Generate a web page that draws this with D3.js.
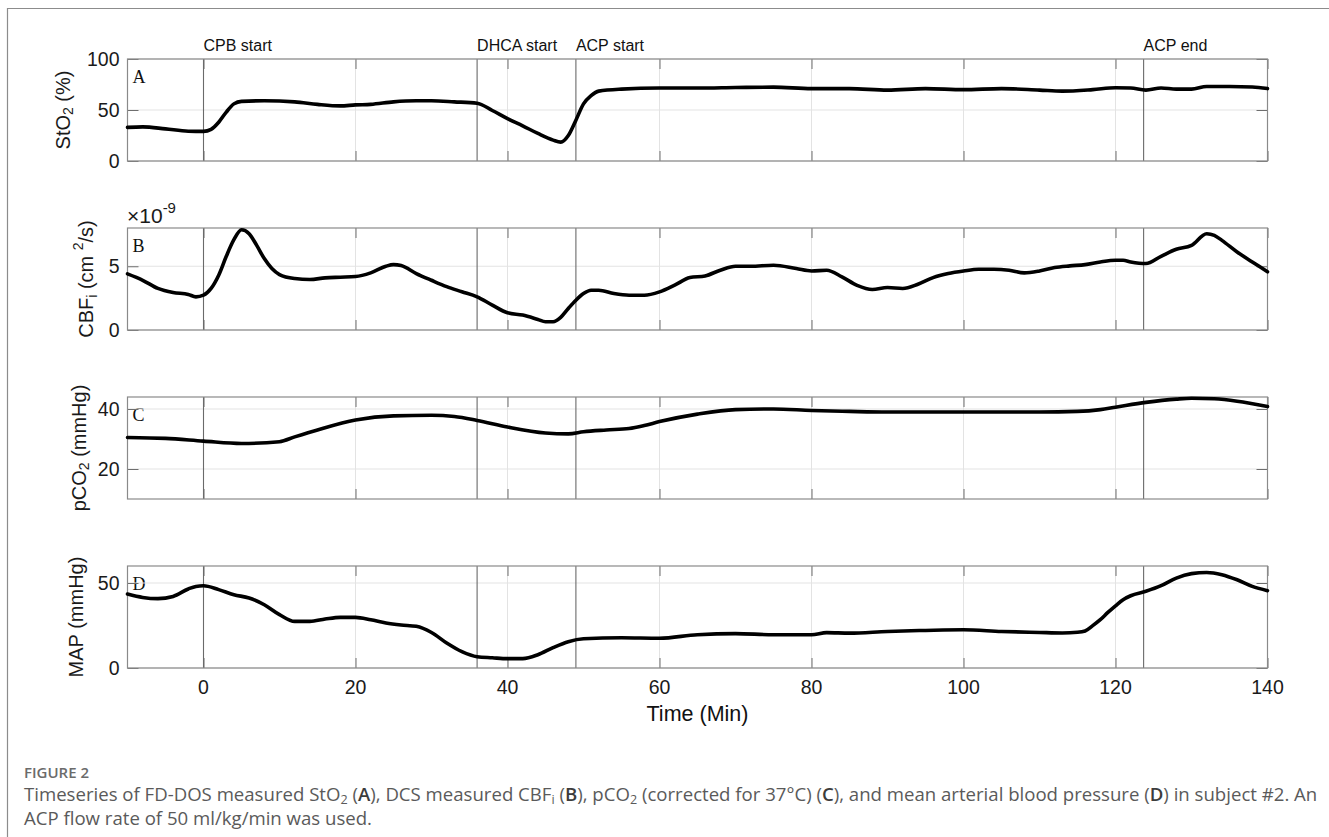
<!DOCTYPE html>
<html>
<head>
<meta charset="utf-8">
<script src="https://cdn.jsdelivr.net/npm/d3@7.9.0/dist/d3.min.js"></script>
<style>
  body { margin: 0; background: #fff; }
  svg { display: block; font-family: "Liberation Sans", Arial, sans-serif; }
</style>
</head>
<body>
<div id="chart"></div>
<script>
// event markers
const eventTimes = [0, 36, 49, 123.7];
const eventLabels = ['CPB start', 'DHCA start', 'ACP start', 'ACP end'];
const xTicks = [0, 20, 40, 60, 80, 100, 120, 140];

// A: StO2 (%)
const timeA = [-10,-8,-5,-2,0,1,2,3,4,5,8,12,15,18,20,22,25,28,30,33,36,38,40,42,44,46,47,48,49,50,51,52,55,60,65,70,75,80,85,90,95,100,105,110,113,117,120,122,124,126,128,130,132,135,138,140];
const stO2 = [33,33.5,31.5,29.2,29,31,38,48,56,58.5,59,58,55.5,54,55,55.5,58,59,59,58,56.7,49.5,41.5,34.5,27,20.5,18.5,25,40,56,64,68.5,70.5,71.5,71.5,72,72.4,71,71,69.5,71,70,71,69.5,68.5,70,71.8,71.5,69.5,71.5,70.5,70.5,73,73,72.5,71];

// B: CBFi (x1e-9 cm^2/s)
const timeB = [-10,-8,-6,-4,-2,-1,0,1,2,3,4,5,6,7,8,9,10,12,14,16,18,20,22,24,25,26,28,30,32,34,36,38,40,42,44,45,46,47,48,49,50,51,52,54,56,58,60,62,64,66,68,70,72,75,78,80,82,84,86,88,90,92,94,96,98,100,102,104,106,108,110,112,114,116,118,120,121,122,124,126,128,130,132,133,134,136,138,140];
const cbf = [4.4,3.9,3.26,2.94,2.79,2.6,2.73,3.26,4.3,5.78,7.08,7.86,7.55,6.64,5.6,4.82,4.35,4.04,3.96,4.09,4.14,4.19,4.48,5.0,5.13,5.05,4.43,3.9,3.4,3.0,2.6,1.95,1.35,1.17,0.83,0.65,0.65,0.99,1.69,2.34,2.86,3.12,3.12,2.86,2.73,2.73,2.99,3.52,4.11,4.24,4.69,5.0,5.0,5.08,4.82,4.63,4.69,4.17,3.5,3.18,3.33,3.26,3.59,4.11,4.43,4.63,4.77,4.77,4.69,4.48,4.63,4.9,5.03,5.13,5.34,5.47,5.47,5.34,5.21,5.78,6.33,6.64,7.55,7.42,7.03,6.12,5.34,4.56];

// C: pCO2 (mmHg)
const timeC = [-10,-5,0,5,10,12,15,20,25,30,33,36,40,45,48,50,53,56,58,60,65,70,75,80,85,90,100,110,115,118,120,124,128,130,133,136,140];
const pco2 = [30.5,30.2,29.3,28.5,29.1,30.7,33,36.3,37.7,37.9,37.5,36.2,34,32,31.7,32.4,33,33.5,34.5,35.8,38.3,39.8,40,39.5,39.2,39,39,39,39.2,39.8,40.6,42.2,43.3,43.6,43.4,42.6,40.8];

// D: MAP (mmHg)
const timeD = [-10,-8,-6,-4,-2,-1,0,2,4,6,8,10,12,14,16,18,20,22,24,26,28,30,32,34,36,38,40,42,44,46,48,50,55,60,65,70,75,80,82,85,90,95,100,105,110,113,115,116,117,118,119,120,121,122,124,126,128,130,132,134,136,138,140];
const map = [43.5,41.5,40.8,42.1,46.5,48,48.4,46.1,43.1,41.2,37.2,31.4,27.4,27.4,28.8,29.8,29.8,28.4,26.5,25.3,24.5,20.9,14.7,9.6,6.6,6,5.5,5.5,7.8,12,15.5,17.2,17.8,17.5,19.6,20.2,19.6,19.6,20.8,20.5,21.5,22.1,22.5,21.5,20.9,20.6,21,21.8,24.9,28.4,32.7,36.6,40.2,42.5,45.1,48.4,52.9,55.5,56.2,54.9,51.9,48,45.5];

const width = 1329, height = 837;
const left = 127.5, right = 1267.5;
const panelH = 102;

const panels = [
  { top: 59,  t: timeA, v: stO2, domain: [0, 100], ticks: [0, 50, 100], letter: 'A', labelX: 63 },
  { top: 228, t: timeB, v: cbf,  domain: [0, 8],   ticks: [0, 5],       letter: 'B', labelX: 86 },
  { top: 397, t: timeC, v: pco2, domain: [10, 44], ticks: [20, 40],     letter: 'C', labelX: 79 },
  { top: 566, t: timeD, v: map,  domain: [0, 60],  ticks: [0, 50],      letter: 'D', labelX: 76 },
];

const svg = d3.select('#chart').append('svg')
  .attr('width', width).attr('height', height);

// figure frame
svg.append('path')
  .attr('d', `M7.5,${height} V8.5 H${width}`)
  .attr('fill', 'none').attr('stroke', '#8c8c8c').attr('stroke-width', 1.2);

const x = d3.scaleLinear().domain([-10, 140]).range([left, right]);

panels.forEach((p, i) => {
  const y = d3.scaleLinear().domain(p.domain).range([p.top + panelH, p.top]);
  const g = svg.append('g');

  // panel letter (gridline runs over it, as in the matlab export)
  g.append('text')
    .attr('x', left + 5).attr('y', p.top + 24)
    .attr('font-family', '"Liberation Serif", "Times New Roman", serif')
    .attr('font-size', 18).attr('fill', '#111')
    .text(p.letter);

  // grid
  g.append('g').selectAll('line').data(xTicks).join('line')
    .attr('x1', d => x(d)).attr('x2', d => x(d))
    .attr('y1', p.top).attr('y2', p.top + panelH)
    .attr('stroke', '#e3e3e3').attr('stroke-width', 1);
  g.append('g').selectAll('line').data(p.ticks).join('line')
    .attr('x1', left).attr('x2', right)
    .attr('y1', d => y(d)).attr('y2', d => y(d))
    .attr('stroke', '#e3e3e3').attr('stroke-width', 1);

  // inward tick marks on all four sides
  const tickStyle = sel => {
    sel.select('.domain').remove();
    sel.selectAll('line').attr('stroke', '#6e6e6e');
    sel.selectAll('text').remove();
  };
  g.append('g').attr('transform', `translate(0,${p.top + panelH})`)
    .call(d3.axisBottom(x).tickValues(xTicks).tickSize(-10)).call(tickStyle);
  g.append('g').attr('transform', `translate(0,${p.top})`)
    .call(d3.axisTop(x).tickValues(xTicks).tickSize(-10)).call(tickStyle);
  g.append('g').attr('transform', `translate(${left},0)`)
    .call(d3.axisLeft(y).tickValues(p.ticks).tickSize(-11)).call(tickStyle);
  g.append('g').attr('transform', `translate(${right},0)`)
    .call(d3.axisRight(y).tickValues(p.ticks).tickSize(-11)).call(tickStyle);

  // event lines
  g.append('g').selectAll('line').data(eventTimes).join('line')
    .attr('x1', d => x(d)).attr('x2', d => x(d))
    .attr('y1', p.top).attr('y2', p.top + panelH)
    .attr('stroke', '#6a6a6a').attr('stroke-width', 1.1);

  // box
  g.append('rect')
    .attr('x', left).attr('y', p.top)
    .attr('width', right - left).attr('height', panelH)
    .attr('fill', 'none').attr('stroke', '#8a8a8a').attr('stroke-width', 1.2);

  // y tick labels
  g.append('g').selectAll('text').data(p.ticks).join('text')
    .attr('x', left - 8).attr('y', d => y(d))
    .attr('text-anchor', 'end').attr('dominant-baseline', 'central')
    .attr('font-size', 19.5).attr('fill', '#1a1a1a')
    .text(d => d);

  // series
  const pts = p.t.map((t, k) => [t, p.v[k]]);
  const line = d3.line().x(d => x(d[0])).y(d => y(d[1])).curve(d3.curveMonotoneX);
  g.append('path').datum(pts)
    .attr('d', line)
    .attr('fill', 'none').attr('stroke', '#000')
    .attr('stroke-width', 3.6).attr('stroke-linejoin', 'round').attr('stroke-linecap', 'round');

  // y axis label
  const lab = g.append('text')
    .attr('transform', `translate(${p.labelX},${p.top + panelH / 2}) rotate(-90)`)
    .attr('text-anchor', 'middle').attr('dominant-baseline', 'central')
    .attr('font-size', 20).attr('fill', '#1a1a1a');
  if (i === 0) {
    lab.append('tspan').text('StO');
    lab.append('tspan').attr('font-size', 14).attr('dy', 5).text('2');
    lab.append('tspan').attr('dy', -5).text(' (%)');
  } else if (i === 1) {
    lab.append('tspan').text('CBF');
    lab.append('tspan').attr('font-size', 14).attr('dy', 6).text('i');
    lab.append('tspan').attr('dy', -6).text(' (cm ');
    lab.append('tspan').attr('font-size', 14).attr('dy', -8).text('2');
    lab.append('tspan').attr('dy', 8).text('/s)');
  } else if (i === 2) {
    lab.append('tspan').text('pCO');
    lab.append('tspan').attr('font-size', 14).attr('dy', 5).text('2');
    lab.append('tspan').attr('dy', -5).text(' (mmHg)');
  } else {
    lab.text('MAP (mmHg)');
  }
});

// exponent label for panel B
const expo = svg.append('text').attr('x', 127).attr('y', 223)
  .attr('font-size', 21).attr('fill', '#1a1a1a');
expo.append('tspan').text('\u00d710');
expo.append('tspan').attr('font-size', 15).attr('dy', -10).text('-9');

// event labels
svg.append('g').selectAll('text').data(eventTimes).join('text')
  .attr('x', d => x(d)).attr('y', 51)
  .attr('font-size', 16).attr('fill', '#111')
  .text((d, i) => eventLabels[i]);

// x tick labels below bottom panel
const bottom = panels[3].top + panelH;
svg.append('g').selectAll('text').data(xTicks).join('text')
  .attr('x', d => x(d)).attr('y', bottom + 19)
  .attr('text-anchor', 'middle').attr('dominant-baseline', 'central')
  .attr('font-size', 19.5).attr('fill', '#1a1a1a')
  .text(d => d);

svg.append('text')
  .attr('x', (left + right) / 2).attr('y', 714)
  .attr('text-anchor', 'middle').attr('dominant-baseline', 'central')
  .attr('font-size', 21.5).attr('fill', '#111')
  .text('Time (Min)');

// caption
const capFont = '"Open Sans", "Noto Sans", sans-serif';
svg.append('text')
  .attr('x', 24).attr('y', 778)
  .attr('font-family', capFont).attr('font-size', 15).attr('font-weight', 600)
  .attr('fill', '#6b6b6b')
  .text('FIGURE 2');

const cap1 = svg.append('text').attr('x', 24).attr('y', 801)
  .attr('font-family', capFont).attr('font-size', 17).attr('fill', '#5a5a5a');
const parts = [
  ['Timeseries of FD-DOS measured StO'], ['2', 'sub'], [' ('], ['A', 'b'], ['), DCS measured CBF'], ['i', 'sub'],
  [' ('], ['B', 'b'], ['), pCO'], ['2', 'sub'], [' (corrected for 37°C) ('], ['C', 'b'],
  ['), and mean arterial blood pressure ('], ['D', 'b'], [') in subject #2. An']
];
let shifted = false;
parts.forEach(([txt, kind]) => {
  const ts = cap1.append('tspan').text(txt);
  if (kind === 'sub') { ts.attr('class', 'sub').attr('font-size', 11.5).attr('dy', 2.5); shifted = true; }
  else if (shifted) { ts.attr('dy', -2.5); shifted = false; }
  if (kind === 'b') ts.attr('font-weight', 600).attr('fill', '#3c3c3c');
});
const cap2 = svg.append('text').attr('x', 24).attr('y', 825)
  .attr('font-family', capFont).attr('font-size', 17).attr('fill', '#5a5a5a')
  .text('ACP flow rate of 50 ml/kg/min was used.');

// fit caption width to the reference line length
const len = cap1.node().getComputedTextLength();
const k = 1294 / len;
cap1.attr('font-size', 17 * k);
cap1.selectAll('tspan.sub').attr('font-size', 11.5 * k);
cap2.attr('font-size', 17 * k);
</script>
</body>
</html>
